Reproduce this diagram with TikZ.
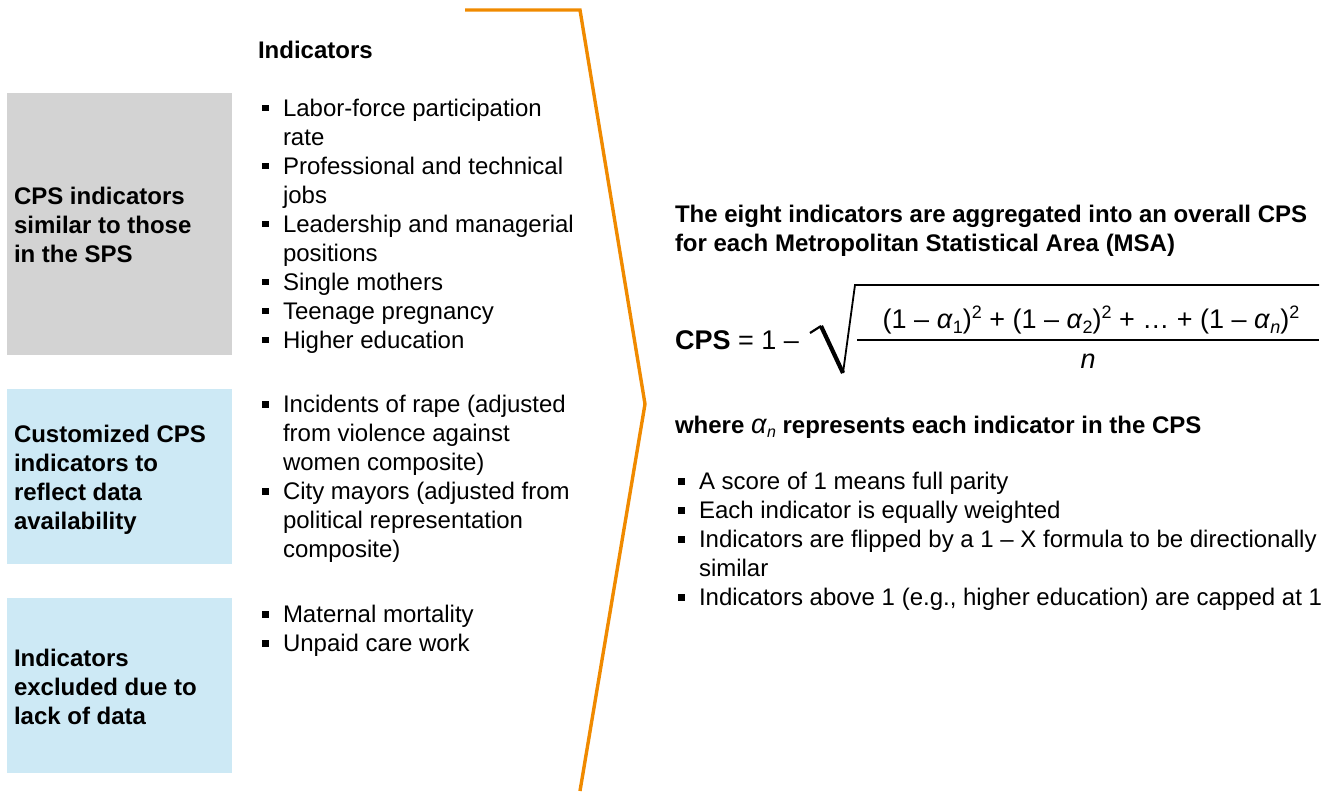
\documentclass[tikz,border=0pt]{standalone}
\usepackage{fontspec}
\setmainfont{Liberation Sans}
\definecolor{cpsorange}{RGB}{240,138,0}
\definecolor{cpsgray}{RGB}{211,211,211}
\definecolor{cpsblue}{RGB}{205,233,245}
\newcommand\bsq{\makebox[21pt][l]{\rule[5pt]{6.5pt}{6.5pt}}}
\newcommand\mysub[1]{\raisebox{-4pt}{\fontsize{16}{16}\selectfont #1}}
\newcommand\mysup[1]{\raisebox{9pt}{\fontsize{16}{16}\selectfont #1}}
\newcommand\fsub[1]{\raisebox{-5pt}{\fontsize{18}{18}\selectfont #1}}
\newcommand\fsup[1]{\raisebox{10pt}{\fontsize{18}{18}\selectfont #1}}
\newcommand\al{\textit{α}}
\begin{document}
\begin{tikzpicture}[x=1pt,y=-1pt,
  every node/.style={inner sep=0pt, outer sep=0pt},
  txt/.style={anchor=base west, font=\fontsize{24}{29}\selectfont},
  bt/.style={anchor=base west, font=\fontsize{24}{29}\selectfont\bfseries},
  ft/.style={font=\fontsize{27}{32}\selectfont},
  panel/.style={anchor=north west, minimum width=225pt},
  bracket/.style={draw=cpsorange, line width=3.4pt, line join=miter},
  rule/.style={line width=1.6pt, line cap=butt}]
\useasboundingbox (0,0) rectangle (1334,793);

% left panels
\node[panel, fill=cpsgray, minimum height=262pt] (p1) at (7,93) {};
\node[panel, fill=cpsblue, minimum height=175pt] (p2) at (7,389) {};
\node[panel, fill=cpsblue, minimum height=175pt] (p3) at (7,598) {};

\node[bt] (l1) at (14,204.6) {\begin{tabular}[t]{@{}l@{}}CPS indicators\\similar to those\\in the SPS\end{tabular}};
\node[bt] (l2) at (14,442.6) {\begin{tabular}[t]{@{}l@{}}Customized CPS\\indicators to\\reflect data\\availability\end{tabular}};
\node[bt] (l3) at (14,666.6) {\begin{tabular}[t]{@{}l@{}}Indicators\\excluded due to\\lack of data\end{tabular}};

% indicators heading and lists
\node[bt] (head) at (258,58.6) {Indicators};
\node[txt] (b1) at (262,116) {\begin{tabular}[t]{@{}l@{}l@{}}
\bsq & Labor-force participation\\
     & rate\\
\bsq & Professional and technical\\
     & jobs\\
\bsq & Leadership and managerial\\
     & positions\\
\bsq & Single mothers\\
\bsq & Teenage pregnancy\\
\bsq & Higher education\end{tabular}};
\node[txt] (b2) at (262,412.6) {\begin{tabular}[t]{@{}l@{}l@{}}
\bsq & Incidents of rape (adjusted\\
     & from violence against\\
     & women composite)\\
\bsq & City mayors (adjusted from\\
     & political representation\\
     & composite)\end{tabular}};
\node[txt] (b3) at (262,622.6) {\begin{tabular}[t]{@{}l@{}l@{}}
\bsq & Maternal mortality\\
\bsq & Unpaid care work\end{tabular}};

% orange bracket
\coordinate (o1) at (465,10);
\coordinate (o2) at (580,10);
\coordinate (o3) at (645,404);
\coordinate (o4) at (580,791);
\draw[bracket] (o1) -- (o2) -- (o3) -- (o4);

% right side
\node[bt] (r1) at (675,222.6) {\begin{tabular}[t]{@{}l@{}}The eight indicators are aggregated into an overall CPS\\for each Metropolitan Statistical Area (MSA)\end{tabular}};

\node[ft, anchor=base west] (cps) at (675,349.6) {\textbf{CPS} = 1 –};
\coordinate (s1) at (810,333);
\coordinate (s2) at (821,326);
\coordinate (s3) at (843,373);
\coordinate (s4) at (855,285);
\coordinate (s5) at (1319,285);
\draw[line width=2.2pt] (s1) -- (s2);
\draw[line width=4.2pt, line cap=butt] (s2) -- (s3);
\draw[line width=1.8pt, line join=miter] (s3) -- (s4) -- (s5);
\coordinate (f1) at (857,340);
\coordinate (f2) at (1319,340);
\draw[rule] (f1) -- (f2);
\node[ft, anchor=base] (num) at (1091,328) {(1 – \al\fsub{1})\fsup{2} + (1 – \al\fsub{2})\fsup{2} + … + (1 – \al\fsub{\textit{n}})\fsup{2}};
\node[ft, anchor=base] (den) at (1088,368) {\textit{n}};

\node[bt] (where) at (675,433.6) {where \textmd{\fontsize{27}{29}\selectfont\al\mysub{\textit{n}}} represents each indicator in the CPS};

\node[txt] (rb) at (678,489.6) {\begin{tabular}[t]{@{}l@{}l@{}}
\bsq & A score of 1 means full parity\\
\bsq & Each indicator is equally weighted\\
\bsq & Indicators are flipped by a 1 – X formula to be directionally\\
     & similar\\
\bsq & Indicators above 1 (e.g., higher education) are capped at 1\end{tabular}};
\end{tikzpicture}
\end{document}
